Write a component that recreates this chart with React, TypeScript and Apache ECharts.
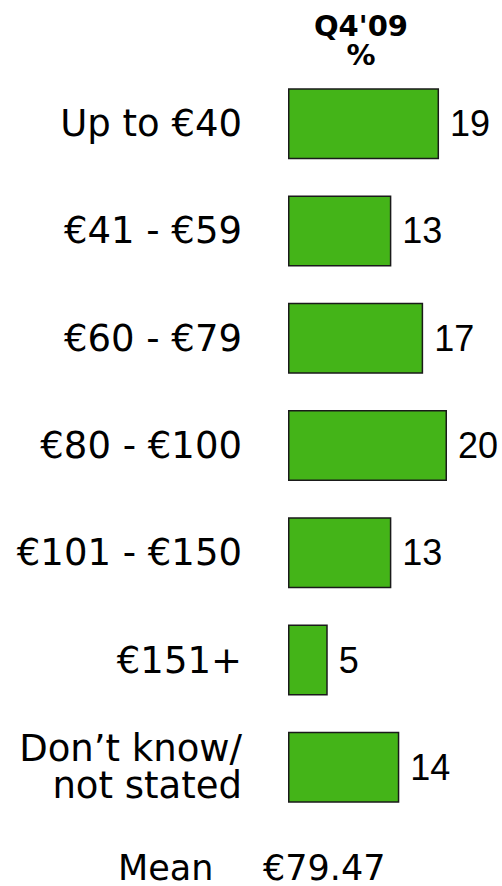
import React, { useEffect, useRef } from "react";
import * as echarts from "echarts";

const categories = [
  "Up to €40",
  "€41 - €59",
  "€60 - €79",
  "€80 - €100",
  "€101 - €150",
  "€151+",
  "Don’t know/\nnot stated",
];
const values = [19, 13, 17, 20, 13, 5, 14];
const titleLines = ["Q4'09", "%"];
const meanLabel = "Mean";
const meanValue = "€79.47";

export default function App() {
  const ref = useRef<HTMLDivElement>(null);
  useEffect(() => {
    if (!ref.current) return;
    const chart = echarts.init(ref.current, undefined, { renderer: "svg" });
    chart.setOption({
      animation: false,
      backgroundColor: "#ffffff",
      grid: {
        left: 288,
        top: 70,
        width: 198.75,
        height: 751,
        containLabel: false,
        outerBoundsMode: "none",
      },
      xAxis: {
        type: "value",
        min: 0,
        max: 25,
        show: false,
      },
      yAxis: {
        type: "category",
        inverse: true,
        data: categories,
        axisLine: { show: false },
        axisTick: { show: false },
        splitLine: { show: false },
        axisLabel: {
          margin: 46,
          color: "#000",
          fontFamily: "DejaVu Sans",
          fontSize: 37,
          lineHeight: 37,
          align: "right",
          padding: [0, 0, 4, 0],
        },
      },
      series: [
        {
          type: "bar",
          data: values,
          barWidth: 71,
          itemStyle: {
            color: "#44b418",
            borderColor: "#1a1a1a",
            borderWidth: 1.5,
          },
          label: {
            show: true,
            position: "right",
            distance: 11,
            color: "#000",
            fontFamily: "Liberation Sans",
            fontSize: 36,
          },
        },
      ],
      graphic: [
        {
          type: "text",
          x: 361,
          y: 25.5,
          style: {
            text: titleLines[0],
            align: "center",
            verticalAlign: "middle",
            fontFamily: "DejaVu Sans",
            fontWeight: "bold",
            fontSize: 29,
            fill: "#000",
          },
        },
        {
          type: "text",
          x: 361,
          y: 55,
          style: {
            text: titleLines[1],
            align: "center",
            verticalAlign: "middle",
            fontFamily: "DejaVu Sans",
            fontWeight: "bold",
            fontSize: 29,
            fill: "#000",
          },
        },
        {
          type: "text",
          x: 118,
          y: 868,
          style: {
            text: meanLabel,
            align: "left",
            verticalAlign: "middle",
            fontFamily: "DejaVu Sans",
            fontSize: 35,
            fill: "#000",
          },
        },
        {
          type: "text",
          x: 263,
          y: 868,
          style: {
            text: meanValue,
            align: "left",
            verticalAlign: "middle",
            fontFamily: "DejaVu Sans",
            fontSize: 35,
            fill: "#000",
          },
        },
      ],
    });
    return () => chart.dispose();
  }, []);
  return (
    <div
      ref={ref}
      style={{ position: "fixed", left: 0, top: 0, width: 502, height: 886 }}
    />
  );
}
